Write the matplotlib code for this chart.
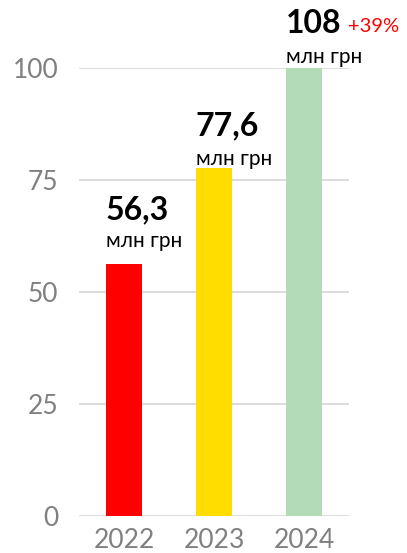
import matplotlib.pyplot as plt

# дані
years = ['2022', '2023', '2024']
values = [56.3, 77.6, 108]
value_labels = ['56,3', '77,6', '108']
unit = 'млн грн'
growth = '+39%'
colors = ['#ff0000', '#ffdd00', '#b3dbb8']
yticks = [0, 25, 50, 75, 100]

plt.rcParams['font.family'] = ['Lato', 'DejaVu Sans']

fig = plt.figure(figsize=(4.07, 5.53), dpi=100)
ax = fig.add_axes([79 / 407, 37 / 553, 270 / 407, 448 / 553])

x = range(len(years))
ax.bar(x, values, width=0.41, color=colors, zorder=2)

ax.set_xlim(-0.5, 2.5)
ax.set_ylim(0, 100)
ax.set_yticks(yticks)
ax.set_xticks(list(x))
ax.set_xticklabels(years)

# сітка
ax.yaxis.grid(True, color='#d9d9d9', linewidth=1.3, zorder=0)
ax.xaxis.grid(False)
for s in ax.spines.values():
    s.set_visible(False)
ax.tick_params(axis='both', length=0, labelsize=19, labelcolor='#808080')
ax.tick_params(axis='y', pad=15)
ax.tick_params(axis='x', pad=9)

# підписи над стовпцями (відступи в пікселях)
unit_gap = [17, 3, 5]
value_gap = [44, 33, 35]
for i, v in enumerate(values):
    top = min(v, 100)
    left = i - 0.205
    ax.annotate(unit, (left, top), xytext=(0, unit_gap[i]), textcoords='offset pixels',
                ha='left', va='baseline', fontsize=15, color='black', annotation_clip=False)
    ax.annotate(value_labels[i], (left, top), xytext=(0, value_gap[i]), textcoords='offset pixels',
                ha='left', va='baseline', fontsize=23, fontweight='bold', color='black',
                annotation_clip=False)

ax.annotate(growth, (2 - 0.205, 100), xytext=(62, 36), textcoords='offset pixels',
            ha='left', va='baseline', fontsize=14.5, color='#ff0000', annotation_clip=False)

plt.savefig('out.png', dpi=100)
